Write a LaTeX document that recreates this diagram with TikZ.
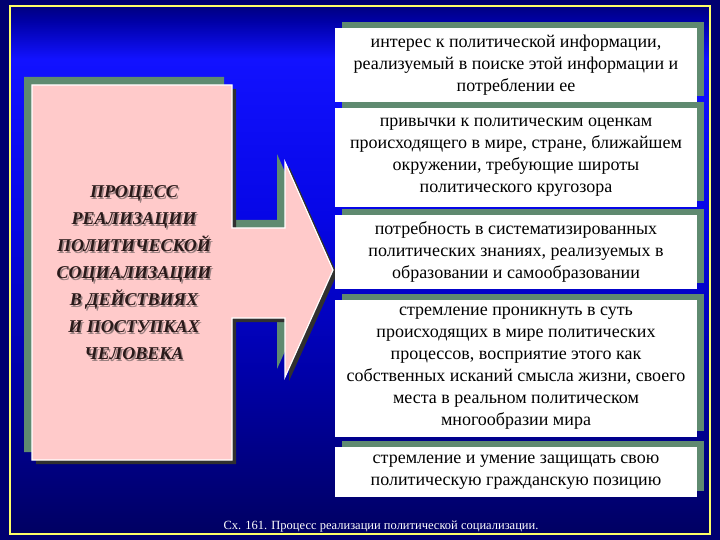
\documentclass[tikz,border=0pt]{standalone}
\usepackage{fontspec}
\setmainfont{Liberation Serif}
\usetikzlibrary{shadows}
\definecolor{outer}{HTML}{000070}
\definecolor{frameyellow}{HTML}{FFFF66}
\definecolor{boxgreen}{HTML}{5F8A70}
\definecolor{pinkfill}{HTML}{FFCACA}
\definecolor{darkedge}{HTML}{303030}
\definecolor{textdark}{HTML}{2A1A1A}
\definecolor{textshadow}{HTML}{9A8080}
\definecolor{bgA}{HTML}{000062}
\definecolor{bgB}{HTML}{0000A8}
\definecolor{bgC}{HTML}{0606E6}
\definecolor{bgD}{HTML}{1212FF}
\definecolor{bgE}{HTML}{0000A8}
\definecolor{bgF}{HTML}{000080}
\pgfdeclareverticalshading{bgshade}{100bp}{color(0bp)=(bgA); color(25bp)=(bgA); color(40bp)=(bgB); color(55bp)=(bgC); color(70bp)=(bgD); color(73.5bp)=(bgE); color(75bp)=(bgF); color(100bp)=(bgF)}
\tikzset{
  infobox/.style={fill=white, minimum width=362pt, inner sep=0pt, align=center,
    font=\fontsize{18}{22}\selectfont, text=black,
    general shadow={shadow xshift=7pt, shadow yshift=6pt, fill=boxgreen}},
  titletext/.style={font=\fontsize{18}{27}\selectfont\bfseries\itshape, align=center},
}
\newcommand\arrowshape{(32,85) -- (232,85) -- (232,228) -- (285,228) -- (285,162) -- (333,270) -- (285,377) -- (285,318) -- (232,318) -- (232,460) -- (32,460) -- cycle}
\begin{document}
\begin{tikzpicture}[x=1pt,y=-1pt]
\useasboundingbox (0,0) rectangle (720,540);
\fill[outer] (0,0) rectangle (720,540);
\shade[shading=bgshade] (10,6) rectangle (710,534);
\draw[frameyellow, line width=1.2pt] (10,6) rectangle (710,534);
% block arrow
\begin{scope}[shift={(-8,-8)}]
  \fill[boxgreen] \arrowshape;
\end{scope}
\begin{scope}[shift={(4,4)}]
  \fill[darkedge] \arrowshape;
\end{scope}
\fill[pinkfill, draw=white, line width=1.2pt] \arrowshape;
\node[titletext, text=textshadow] (ttlsh) at (135.5,274.5) {ПРОЦЕСС\\РЕАЛИЗАЦИИ\\ПОЛИТИЧЕСКОЙ\\СОЦИАЛИЗАЦИИ\\В ДЕЙСТВИЯХ\\И ПОСТУПКАХ\\ЧЕЛОВЕКА};
\node[titletext, text=textdark] (ttl) at (134,273) {ПРОЦЕСС\\РЕАЛИЗАЦИИ\\ПОЛИТИЧЕСКОЙ\\СОЦИАЛИЗАЦИИ\\В ДЕЙСТВИЯХ\\И ПОСТУПКАХ\\ЧЕЛОВЕКА};
% boxes
\node[infobox, minimum height=74pt] (b1) at (516,65) {интерес к политической информации,\\реализуемый в поиске этой информации и\\потреблении ее};
\node[infobox, minimum height=99pt] (b2) at (516,157.5) {привычки к политическим оценкам\\происходящего в мире, стране, ближайшем\\окружении, требующие широты\\политического кругозора};
\node[infobox, minimum height=74pt] (b3) at (516,252) {потребность в систематизированных\\политических знаниях, реализуемых в\\образовании и самообразовании};
\node[infobox, minimum height=137pt] (b4) at (516,368.5) {стремление проникнуть в суть\\происходящих в мире политических\\процессов, восприятие этого как\\собственных исканий смысла жизни, своего\\места в реальном политическом\\многообразии мира};
\node[infobox, minimum height=50pt] (b5) at (516,472) {стремление и умение защищать свою\\политическую гражданскую позицию};
\node[text=white, font=\fontsize{12.5}{14}\selectfont] (cap) at (381,527) {Сх. 161. Процесс реализации политической социализации.};
\end{tikzpicture}
\end{document}
